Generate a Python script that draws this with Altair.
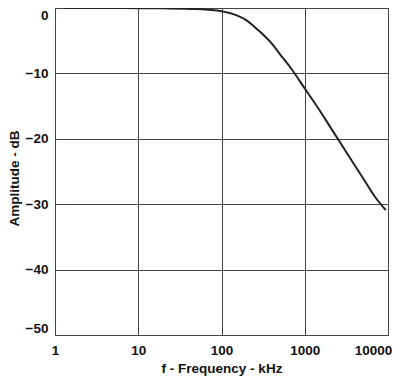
import altair as alt
import pandas as pd

# Readings from the reference (frequency in kHz, amplitude in dB)
freq = [1.3, 2, 5, 10, 20, 50, 70, 100, 150, 200, 250, 300, 400, 500, 700,
        1000, 1500, 2000, 3000, 5000, 7000, 9400]
amp = [0.0, 0.0, 0.0, -0.02, -0.05, -0.15, -0.28, -0.5, -1.1, -1.9, -2.9, -3.8,
       -5.4, -7.0, -9.4, -12.3, -15.6, -18.1, -21.6, -26.0, -28.9, -30.9]

x_ticks = [1, 10, 100, 1000, 10000]
y_ticks = [-50, -40, -30, -20, -10, 0]

df = pd.DataFrame({"f": freq, "a": amp})

FONT = "Liberation Sans"

chart = (
    alt.Chart(df)
    .mark_line(color="#222222", strokeWidth=2, interpolate="monotone")
    .encode(
        x=alt.X(
            "f:Q",
            scale=alt.Scale(type="log", domain=[1, 10000]),
            axis=alt.Axis(
                values=x_ticks, format="d", title="f - Frequency - kHz",
                grid=True, ticks=False, domain=False, labelPadding=8,
                titlePadding=5, labelFlush=False,
                labelOffset=alt.ExprRef("datum.value == 10000 ? -15 : 0"),
            ),
        ),
        y=alt.Y(
            "a:Q",
            scale=alt.Scale(domain=[-50, 0]),
            axis=alt.Axis(
                values=y_ticks, title="Amplitude - dB",
                grid=True, ticks=False, domain=False, labelPadding=7,
                labelFlush=True, titlePadding=4, titleY=170,
            ),
        ),
    )
    .properties(
        width=333,
        height=327,
        autosize=alt.AutoSizeParams(type="none"),
        padding={"left": 47, "top": 0, "right": 4, "bottom": 41},
    )
    .configure_view(stroke="#444444", strokeWidth=1)
    .configure_axis(
        gridColor="#444444", gridWidth=1, gridOpacity=1,
        labelFont=FONT, labelFontSize=13.5, labelFontWeight="bold", labelColor="#111111",
        titleFont=FONT, titleFontSize=13.5, titleFontWeight="bold", titleColor="#111111",
    )
)

chart.save("out.html", embed_options={"renderer": "svg", "actions": False})
